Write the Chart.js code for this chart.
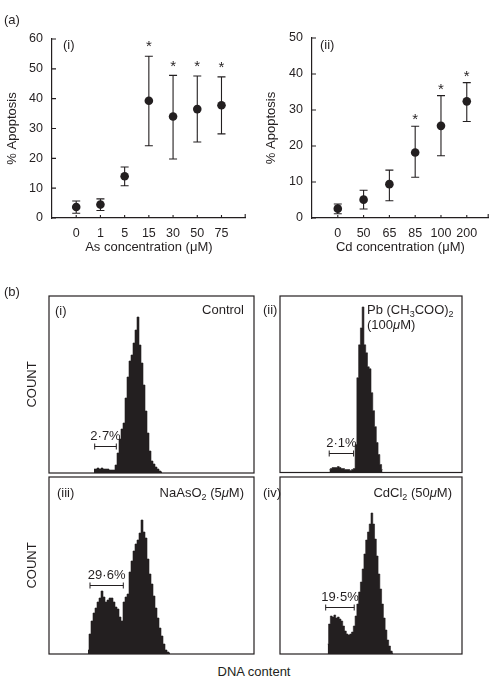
<!DOCTYPE html>
<html><head><meta charset="utf-8">
<script src="https://cdn.jsdelivr.net/npm/chart.js@4.4.0/dist/chart.umd.min.js"></script>
<style>
html,body{margin:0;padding:0;background:#fff;}
#wrap{position:relative;width:493px;height:683px;overflow:hidden;font-family:'Liberation Sans',Arial,sans-serif;color:#231f20;}
canvas{position:absolute;}
.lbl{position:absolute;font-size:13px;line-height:15px;white-space:nowrap;}
.lbl sub{font-size:9px;vertical-align:-3px;line-height:0;}
</style></head>
<body><div id="wrap">
<canvas id="c1" width="250" height="262" style="left:0;top:0"></canvas>
<canvas id="c2" width="243" height="262" style="left:250px;top:0"></canvas>
<canvas id="h1" width="256" height="186" style="left:0;top:290px"></canvas>
<canvas id="h2" width="243" height="186" style="left:250px;top:290px"></canvas>
<canvas id="h3" width="256" height="186" style="left:0;top:471px"></canvas>
<canvas id="h4" width="243" height="186" style="left:250px;top:471px"></canvas>
<div class="lbl" style="left:4px;top:12px">(a)</div>
<div class="lbl" style="left:63px;top:37px">(i)</div>
<div class="lbl" style="left:320px;top:37px">(ii)</div>
<div class="lbl" style="left:4px;top:284px">(b)</div>
<div class="lbl" style="left:55px;top:303px">(i)</div>
<div class="lbl" style="right:249px;top:302px">Control</div>
<div class="lbl" style="left:263px;top:302px">(ii)</div>
<div class="lbl" style="left:367px;top:302px">Pb (CH<sub>3</sub>COO)<sub>2</sub></div>
<div class="lbl" style="left:367px;top:317px">(100<i>μ</i>M)</div>
<div class="lbl" style="left:57px;top:485px">(iii)</div>
<div class="lbl" style="right:249px;top:485px">NaAsO<sub>2</sub> (5<i>μ</i>M)</div>
<div class="lbl" style="left:263px;top:485px">(iv)</div>
<div class="lbl" style="right:41px;top:485px">CdCl<sub>2</sub> (50<i>μ</i>M)</div>
<div class="lbl" style="left:154px;width:200px;text-align:center;top:664px">DNA content</div>
</div>
<script>
// ---------- data: panel (a)(i) arsenic ----------
const asConc = ['0','1','5','15','30','50','75'];
const asMean = [3.7, 4.5, 14.0, 39.3, 34.0, 36.5, 37.8];
const asLow  = [1.6, 2.5, 10.8, 24.2, 19.8, 25.5, 28.2];
const asHigh = [5.7, 6.4, 17.1, 54.2, 47.8, 47.6, 47.3];
const asSig  = [false, false, false, true, true, true, true];
const asTicks = [0, 10, 20, 30, 40, 50, 60];
// ---------- data: panel (a)(ii) cadmium ----------
const cdConc = ['0','50','65','85','100','200'];
const cdMean = [2.6, 5.1, 9.4, 18.2, 25.6, 32.4];
const cdLow  = [1.2, 2.5, 4.8, 11.3, 17.3, 26.8];
const cdHigh = [3.9, 7.7, 13.3, 25.5, 34.0, 37.6];
const cdSig  = [false, false, false, true, true, true];
const cdTicks = [0, 10, 20, 30, 40, 50];
// ---------- data: panel (b) DNA histograms (counts per 2-channel bin) ----------
const histControlStart = 45;
const histControl = [4,4,5,4,5,4,4,4,3,3,3,8,20,34,44,50,75,96,112,118,130,143,156,128,110,88,62,40,22,12,9,6,4,2,1];
const histPbStart = 56;
const histPb = [3,4,5,5,5,6,5,4,4,3,3,3,2,3,4,28,95,128,145,166,128,120,106,104,80,62,46,30,18,8,3];
const histAsStart = 39;
const histAs = [4,20,33,41,46,52,56,63,57,52,54,56,56,52,47,45,37,33,52,57,60,82,93,103,110,114,121,134,122,116,95,80,70,58,46,36,26,18,10,4,2,1];
const histCdStart = 54;
const histCd = [10,30,38,37,39,36,37,35,33,28,23,20,19,20,22,28,38,50,62,72,85,100,114,122,130,141,130,115,98,80,65,50,36,24,14,8,3,1];
// gates: [from channel, to channel, level, label]
const gateControl = [45.7, 67.3, 27, '2·7%'];
const gatePb      = [55.7, 83.3, 20, '2·1%'];
const gateAs      = [41, 74.3, 69, '29·6%'];
const gateCd      = [51.7, 84, 47, '19·5%'];

const INK = '#231f20';
const FAM = "'Liberation Sans', Arial, sans-serif";

function makeDeco(low, high, sig, gap) {
  return {
    id: 'deco',
    beforeDatasetsDraw(chart) {
      const {ctx, scales: {x, y}, chartArea} = chart;
      ctx.save();
      ctx.strokeStyle = INK; ctx.lineWidth = 1.1;
      ctx.beginPath();
      low.forEach((lo, i) => {
        const px = x.getPixelForValue(i + 1);
        const y1 = y.getPixelForValue(lo), y2 = y.getPixelForValue(high[i]);
        ctx.moveTo(px, y1); ctx.lineTo(px, y2);
        ctx.moveTo(px - 4, y1); ctx.lineTo(px + 4, y1);
        ctx.moveTo(px - 4, y2); ctx.lineTo(px + 4, y2);
      });
      y.ticks.forEach(t => {
        const py = y.getPixelForValue(t.value);
        ctx.moveTo(chartArea.left, py); ctx.lineTo(chartArea.left + 4, py);
      });
      x.ticks.forEach(t => {
        const px = x.getPixelForValue(t.value);
        ctx.moveTo(px, chartArea.bottom); ctx.lineTo(px, chartArea.bottom - 3);
      });
      ctx.moveTo(chartArea.right - 0.5, chartArea.bottom); ctx.lineTo(chartArea.right - 0.5, chartArea.bottom - 4);
      ctx.stroke();
      ctx.fillStyle = INK; ctx.font = '15px ' + FAM;
      ctx.textAlign = 'center'; ctx.textBaseline = 'middle';
      sig.forEach((s, i) => {
        if (!s) return;
        const px = x.getPixelForValue(i + 1);
        const py = y.getPixelForValue(high[i]) - gap;
        ctx.fillText('*', px, py + 4);
      });
      ctx.restore();
    }
  };
}

function scatterChart(id, cats, mean, low, high, sig, yTicks, yMax, xMax, xTitle, pad, yW, xH, gap) {
  new Chart(document.getElementById(id), {
    type: 'scatter',
    data: { datasets: [{ data: mean.map((v, i) => ({x: i + 1, y: v})),
      pointRadius: 4.3, pointHoverRadius: 4.3, backgroundColor: INK, borderColor: INK, borderWidth: 0 }] },
    options: {
      responsive: false, animation: false, events: [],
      layout: { padding: pad },
      plugins: { legend: {display: false}, tooltip: {enabled: false} },
      scales: {
        x: { type: 'linear', min: 0, max: xMax,
          afterBuildTicks: s => { s.ticks = cats.map((c, i) => ({value: i + 1})); },
          afterFit: s => { s.height = xH; },
          grid: {display: false, drawTicks: false}, border: {display: true, color: INK, width: 1.2},
          ticks: { callback: v => cats[v - 1], color: INK, font: {family: FAM, size: 12.5}, padding: 8.5, maxRotation: 0, autoSkip: false },
          title: { display: true, text: xTitle, color: INK, font: {family: FAM, size: 13}, padding: 0 } },
        y: { type: 'linear', min: 0, max: yMax,
          afterBuildTicks: s => { s.ticks = yTicks.map(v => ({value: v})); },
          afterFit: s => { s.width = yW; },
          grid: {display: false, drawTicks: false}, border: {display: true, color: INK, width: 1.2},
          ticks: { color: INK, font: {family: FAM, size: 12.5}, padding: 9 },
          title: { display: true, text: '% Apoptosis', color: INK, font: {family: FAM, size: 13}, padding: 0 } }
      }
    },
    plugins: [makeDeco(low, high, sig, gap)]
  });
}

function histDeco(gate) {
  return {
    id: 'hdeco',
    afterDraw(chart) {
      const {ctx, scales: {x, y}, chartArea: a} = chart;
      ctx.save();
      ctx.strokeStyle = INK; ctx.lineWidth = 1.2;
      ctx.strokeRect(a.left, a.top, a.right - a.left, a.bottom - a.top);
      const x1 = x.getPixelForValue(gate[0]), x2 = x.getPixelForValue(gate[1]);
      const gy = Math.round(y.getPixelForValue(gate[2])) + 0.5;
      ctx.lineWidth = 1;
      ctx.beginPath();
      ctx.moveTo(x1, gy); ctx.lineTo(x2, gy);
      ctx.moveTo(x1, gy - 3); ctx.lineTo(x1, gy + 3);
      ctx.moveTo(x2, gy - 3); ctx.lineTo(x2, gy + 3);
      ctx.stroke();
      ctx.fillStyle = INK; ctx.font = '13px ' + FAM;
      ctx.textAlign = 'center'; ctx.textBaseline = 'middle';
      ctx.fillText(gate[3], (x1 + x2) / 2, gy - 10);
      ctx.restore();
    }
  };
}

function histChart(id, counts, start, width, gate, pad, showTitle) {
  new Chart(document.getElementById(id), {
    type: 'line',
    data: { datasets: [{ data: counts.map((v, i) => ({x: start + 2 * i, y: v})),
      stepped: 'middle', fill: 'origin', backgroundColor: INK, borderColor: INK, borderWidth: 0.6, pointRadius: 0 }] },
    options: {
      responsive: false, animation: false, events: [],
      layout: { padding: pad },
      plugins: { legend: {display: false}, tooltip: {enabled: false} },
      scales: {
        x: { type: 'linear', min: 0, max: width, display: false },
        y: { type: 'linear', min: 0, max: 177, display: showTitle,
          afterFit: s => { s.width = 24; },
          grid: {display: false, drawTicks: false}, border: {display: false}, ticks: {display: false},
          title: { display: true, text: 'COUNT', color: INK, font: {family: FAM, size: 13}, padding: 0 } }
      }
    },
    plugins: [histDeco(gate)]
  });
}

scatterChart('c1', asConc, asMean, asLow, asHigh, asSig, asTicks, 60, 8,
  'As concentration (μM)', {left: 5, right: 2, top: 39, bottom: 7}, 47, 37, 13);
scatterChart('c2', cdConc, cdMean, cdLow, cdHigh, cdSig, cdTicks, 50, 6.85,
  'Cd concentration (μM)', {left: 14, right: 0, top: 38, bottom: 7}, 48, 37, 10);

histChart('h1', histControl, histControlStart, 205, gateControl, {left: 25, right: 2, top: 6, bottom: 3}, true);
histChart('h2', histPb, histPbStart, 206, gatePb, {left: 6, right: 31, top: 6, bottom: 3.5}, false);
histChart('h3', histAs, histAsStart, 205, gateAs, {left: 25, right: 2, top: 6, bottom: 3}, true);
histChart('h4', histCd, histCdStart, 206, gateCd, {left: 6, right: 31, top: 6, bottom: 3}, false);
</script>
</body></html>
